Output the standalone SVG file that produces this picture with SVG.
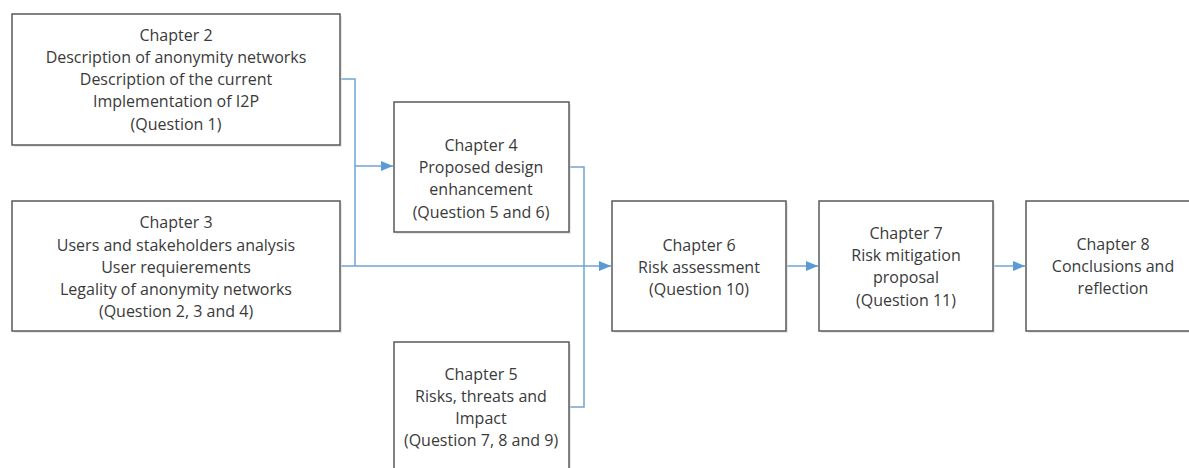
<svg xmlns="http://www.w3.org/2000/svg" width="1189" height="468" viewBox="0 0 1189 468">
  <defs>
    <style>
      .box { fill: #ffffff; stroke: #595959; stroke-width: 1.5; }
      .shadow { fill: #d9d9d9; opacity: 0.6; }
      .lbl { font-family: "Open Sans", "Liberation Sans", Arial, sans-serif; font-size: 16px; fill: #3a3a3a; text-anchor: middle; }
      .wire { fill: none; stroke: #6fa3d6; stroke-width: 1.5; }
    </style>
    <marker id="arrow" viewBox="0 0 12 10" refX="12" refY="5" markerWidth="12" markerHeight="10" markerUnits="userSpaceOnUse" orient="auto">
      <path d="M0,0 L12,5 L0,10 z" fill="#5b9bd5"/>
    </marker>
  </defs>
  <rect width="1189" height="468" fill="#ffffff"/>

  <g id="connectors">
    <path class="wire" d="M340,79 H355 V266"/>
    <path class="wire" d="M355,166 H393" marker-end="url(#arrow)"/>
    <path class="wire" d="M340,266 H611" marker-end="url(#arrow)"/>
    <path class="wire" d="M569,167 H584 V407 H569"/>
    <path class="wire" d="M787,266 H818" marker-end="url(#arrow)"/>
    <path class="wire" d="M994,266 H1025" marker-end="url(#arrow)"/>
  </g>

  <g id="ch2">
    <rect class="shadow" x="14" y="16" width="328" height="131"/>
    <rect class="box" x="12" y="14" width="328" height="131"/>
    <text class="lbl" x="176" y="41">Chapter 2</text>
    <text class="lbl" x="176" y="63">Description of anonymity networks</text>
    <text class="lbl" x="176" y="85">Description of the current</text>
    <text class="lbl" x="176" y="107">Implementation of I2P</text>
    <text class="lbl" x="176" y="130">(Question 1)</text>
  </g>

  <g id="ch3">
    <rect class="shadow" x="14" y="203" width="328" height="130"/>
    <rect class="box" x="12" y="201" width="328" height="130"/>
    <text class="lbl" x="176" y="228">Chapter 3</text>
    <text class="lbl" x="176" y="251">Users and stakeholders analysis</text>
    <text class="lbl" x="176" y="273">User requierements</text>
    <text class="lbl" x="176" y="295">Legality of anonymity networks</text>
    <text class="lbl" x="176" y="317">(Question 2, 3 and 4)</text>
  </g>

  <g id="ch4">
    <rect class="shadow" x="396" y="104" width="175" height="130"/>
    <rect class="box" x="394" y="102" width="175" height="130"/>
    <text class="lbl" x="481" y="151">Chapter 4</text>
    <text class="lbl" x="481" y="173">Proposed design</text>
    <text class="lbl" x="481" y="195">enhancement</text>
    <text class="lbl" x="481" y="218">(Question 5 and 6)</text>
  </g>

  <g id="ch5">
    <rect class="shadow" x="396" y="344" width="175" height="130"/>
    <rect class="box" x="394" y="342" width="175" height="130"/>
    <text class="lbl" x="481" y="380">Chapter 5</text>
    <text class="lbl" x="481" y="402">Risks, threats and</text>
    <text class="lbl" x="481" y="424">Impact</text>
    <text class="lbl" x="481" y="446">(Question 7, 8 and 9)</text>
  </g>

  <g id="ch6">
    <rect class="shadow" x="614" y="203" width="174" height="130"/>
    <rect class="box" x="612" y="201" width="174" height="130"/>
    <text class="lbl" x="699" y="251">Chapter 6</text>
    <text class="lbl" x="699" y="273">Risk assessment</text>
    <text class="lbl" x="699" y="295">(Question 10)</text>
  </g>

  <g id="ch7">
    <rect class="shadow" x="821" y="203" width="174" height="130"/>
    <rect class="box" x="819" y="201" width="174" height="130"/>
    <text class="lbl" x="906" y="239">Chapter 7</text>
    <text class="lbl" x="906" y="261">Risk mitigation</text>
    <text class="lbl" x="906" y="283">proposal</text>
    <text class="lbl" x="906" y="306">(Question 11)</text>
  </g>

  <g id="ch8">
    <rect class="shadow" x="1028" y="203" width="174" height="130"/>
    <rect class="box" x="1026" y="201" width="174" height="130"/>
    <text class="lbl" x="1113" y="250">Chapter 8</text>
    <text class="lbl" x="1113" y="272">Conclusions and</text>
    <text class="lbl" x="1113" y="294">reflection</text>
  </g>
</svg>
